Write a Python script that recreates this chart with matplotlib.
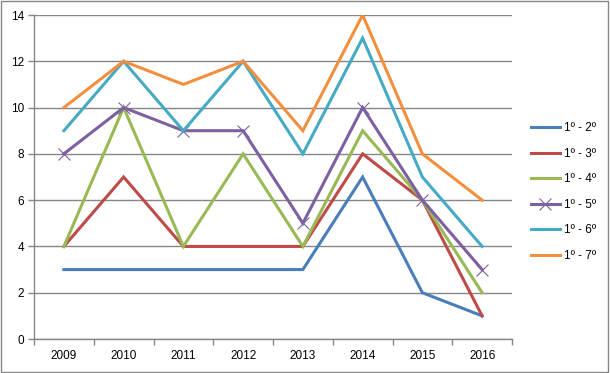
import matplotlib
matplotlib.use('Agg')
import matplotlib.pyplot as plt
from matplotlib.patches import Rectangle
import numpy as np

# datos
anios = ['2009', '2010', '2011', '2012', '2013', '2014', '2015', '2016']
series = ['1º - 2º', '1º - 3º', '1º - 4º', '1º - 5º', '1º - 6º', '1º - 7º']
v12 = [3, 3, 3, 3, 3, 7, 2, 1]
v13 = [4, 7, 4, 4, 4, 8, 6, 1]
v14 = [4, 10, 4, 8, 4, 9, 6, 2]
v15 = [8, 10, 9, 9, 5, 10, 6, 3]
v16 = [9, 12, 9, 12, 8, 13, 7, 4]
v17 = [10, 12, 11, 12, 9, 14, 8, 6]
valores = [v12, v13, v14, v15, v16, v17]

colores = ['#4A7EBB', '#BE4B48', '#98B954', '#7D60A0', '#46AAC5', '#F28F3E']

plt.rcParams['font.family'] = ['Liberation Sans', 'DejaVu Sans']

fig = plt.figure(figsize=(6.1, 3.73), dpi=100)
ax = fig.add_axes([34/610, 1 - 339/373, (512-34)/610, (339-15)/373])

x = np.arange(len(anios))
for nombre, v, c in zip(series, valores, colores):
    if nombre == '1º - 5º':
        ax.plot(x, v, color=c, lw=2.2, marker='x', ms=8, mew=0.8,
                label=nombre, solid_joinstyle='miter')
    else:
        ax.plot(x, v, color=c, lw=2.2, label=nombre, solid_joinstyle='miter')

ax.set_xlim(-0.5, len(anios) - 0.5)
ax.set_ylim(0, 14)
ax.set_yticks(range(0, 15, 2))
ax.set_xticks(x)
ax.set_xticklabels(anios)
ax.set_xticks(np.arange(-0.5, len(anios)), minor=True)
ax.tick_params(axis='x', which='major', length=0, pad=8, labelsize=8.5)
ax.tick_params(axis='x', which='minor', length=4, color='#868686', width=1)
ax.tick_params(axis='y', length=4, color='#868686', width=1, labelsize=8.5, pad=3)
ax.yaxis.grid(True, color='#868686', lw=1)
ax.set_axisbelow(True)
for s in ['top', 'right']:
    ax.spines[s].set_visible(False)
for s in ['left', 'bottom']:
    ax.spines[s].set_color('#868686')
    ax.spines[s].set_linewidth(1)

ax.legend(loc='center left', bbox_to_anchor=(520/610, 1 - 192/373),
          bbox_transform=fig.transFigure, frameon=False, fontsize=8.5,
          handlelength=2.5, labelspacing=1.15, handletextpad=0.3)

fig.patches.append(Rectangle((0.002, 0.003), 0.995, 0.994, transform=fig.transFigure,
                             fill=False, edgecolor='#868686', lw=1))

fig.savefig('out.png', dpi=100)
